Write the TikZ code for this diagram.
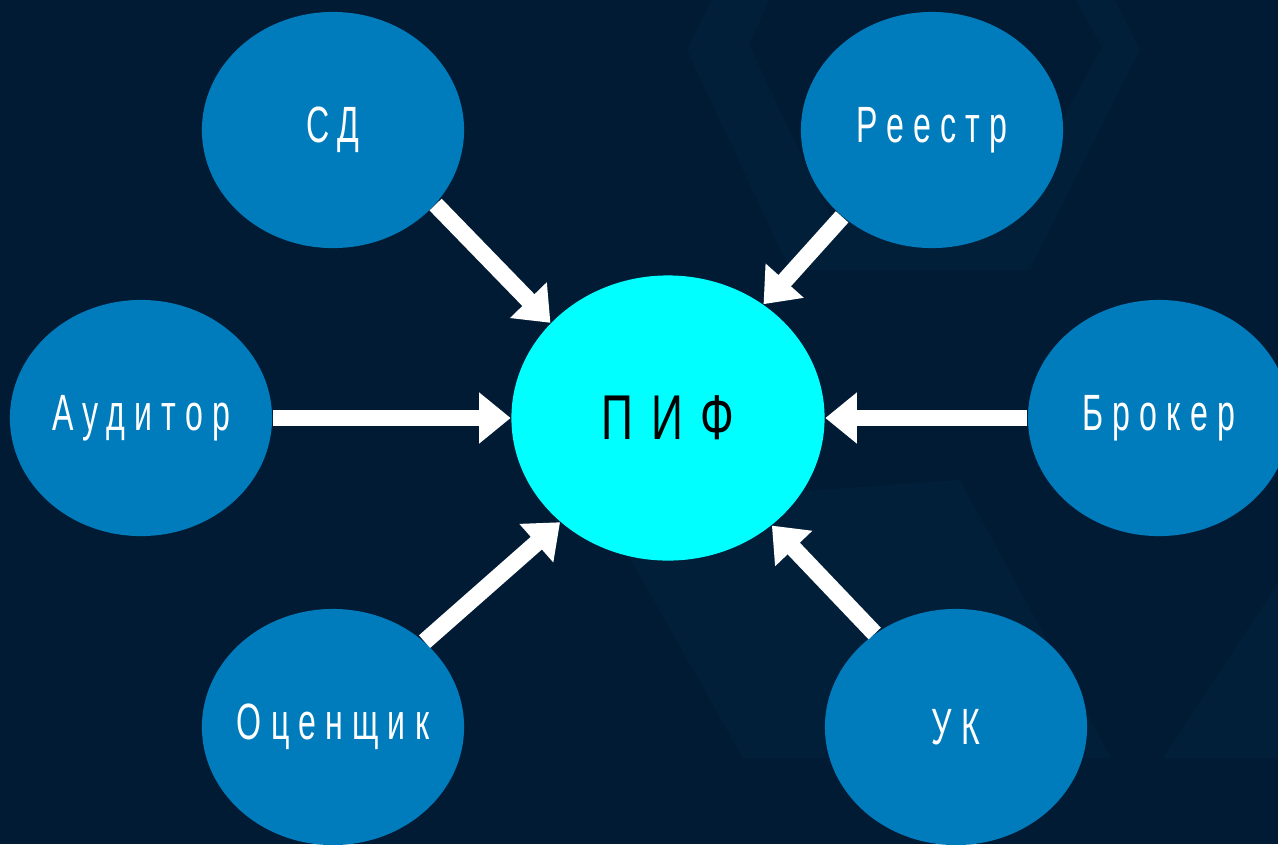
\documentclass[tikz,border=0pt]{standalone}
\usepackage{fontspec}
\setmainfont{Liberation Sans}
\newfontfamily\lblfont[FakeStretch=0.63,LetterSpace=18]{Liberation Sans}
\newfontfamily\piffont[FakeStretch=0.7,LetterSpace=28]{Liberation Sans}
\usetikzlibrary{shapes.geometric,arrows.meta}

\definecolor{bgnavy}{RGB}{0,27,51}
\definecolor{bgshade}{RGB}{2,31,58}
\definecolor{partblue}{RGB}{0,124,189}
\definecolor{fundcyan}{RGB}{0,255,255}

\begin{document}
\begin{tikzpicture}[x=0.01cm,y=-0.01cm,
  part/.style={ellipse,fill=partblue,minimum width=2.62cm,minimum height=2.36cm,inner xsep=-25pt,inner ysep=0pt,text=white,font=\lblfont\fontsize{14.5}{16}\selectfont},
  fund/.style={ellipse,fill=fundcyan,minimum width=3.13cm,minimum height=2.85cm,inner xsep=-20pt,inner ysep=0pt,text=black,font=\piffont\fontsize{18}{20}\selectfont},
  flow/.style={-{Triangle[width=14pt,length=9pt]},line width=4.8pt,white}]

\useasboundingbox (0,0) rectangle (1278,844);
\fill[bgnavy] (0,0) rectangle (1278,844);

% faint background chevrons
\fill[bgshade,even odd rule] (712,0) -- (687,50) -- (790,270) -- (1030,270) -- (1140,50) -- (1115,0) -- cycle
  (769,0) -- (749,45) -- (830,215) -- (1010,215) -- (1102,47) -- (1076,0) -- cycle;
\fill[bgshade] (600,505) -- (743,758) -- (1111,758) -- (960,480) -- cycle;
\fill[bgshade] (1163,758) -- (1278,758) -- (1278,583) -- cycle;

\node[fund] (pif) at (668,418) {ПИФ};

\node[part] (sd) at (333,130) {СД};
\node[part] (reestr) at (932,130) {Реестр};
\node[part] (auditor) at (141,418) {Аудитор};
\node[part] (broker) at (1159,418) {Брокер};
\node[part] (ocenshik) at (333,727) {Оценщик};
\node[part] (uk) at (956,727) {УК};

\draw[flow] (sd.-36) -- (pif.141);
\draw[flow] (reestr.224) -- (pif.50);
\draw[flow] (auditor.east) -- (pif.west);
\draw[flow] (broker.west) -- (pif.east);
\draw[flow] (ocenshik.43) -- (pif.224);
\draw[flow] (uk.131) -- (pif.-46);
\end{tikzpicture}
\end{document}
